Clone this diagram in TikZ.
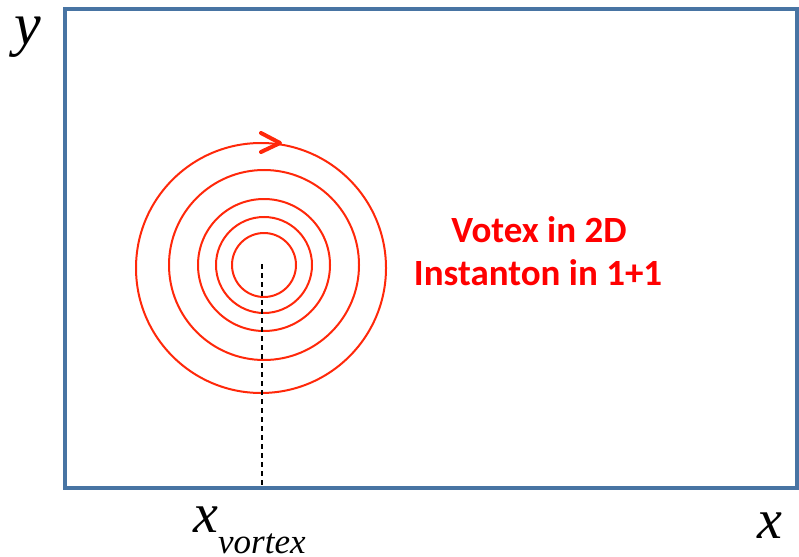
\documentclass[tikz,border=0pt]{standalone}
\usepackage{fontspec}
\setmainfont{Liberation Serif}
\newfontfamily\calib{Carlito}
\definecolor{frameblue}{RGB}{72,116,163}
\definecolor{ringred}{RGB}{255,40,10}
\tikzset{
  frame/.style={draw=frameblue, line width=4pt},
  ring/.style={draw=ringred, line width=2pt},
  chev/.style={draw=ringred, line width=4pt, line cap=round, line join=round},
  guide/.style={draw=black, line width=1.5pt, dash pattern=on 5pt off 4pt},
  axislab/.style={font=\itshape\fontsize{56}{56}\selectfont, inner sep=0pt},
  caption/.style={font=\calib\bfseries\fontsize{37}{43}\selectfont, text=red, inner sep=0pt, anchor=base}
}
\begin{document}
\begin{tikzpicture}[x=1pt,y=-1pt]
\useasboundingbox (0,0) rectangle (799,556);
\node[frame, minimum width=732pt, minimum height=479pt, inner sep=0pt, anchor=north west] (box) at (63,7) {};
\coordinate (c) at (264,265);
\coordinate (foot) at (262,486);
\draw[ring] (c) circle[radius=32];
\draw[ring] (c) circle[radius=48];
\draw[ring] (c) circle[radius=66];
\draw[ring] (c) circle[radius=95];
\draw[ring] (c) ++(-3,3) circle[radius=125];
\coordinate (ta) at (261,133);
\coordinate (tip) at (280,143);
\coordinate (tb) at (261,152);
\draw[chev] (ta) -- (tip) -- (tb);
\draw[guide] (262,264) -- (foot);
\node[caption] (cap1) at (539,242) {Votex in 2D};
\node[caption] (cap2) at (538,285) {Instanton in 1+1};
\node[axislab, font=\itshape\fontsize{60}{60}\selectfont, anchor=base] (ylab) at (28,45) {y};
\node[axislab, anchor=base] (xlab) at (770,538) {x};
\node[axislab, anchor=base] (xv) at (206,532) {x};
\node[font=\itshape\fontsize{35}{35}\selectfont, inner sep=0pt, anchor=base west] (sub) at (218,553) {vortex};
\end{tikzpicture}
\end{document}
